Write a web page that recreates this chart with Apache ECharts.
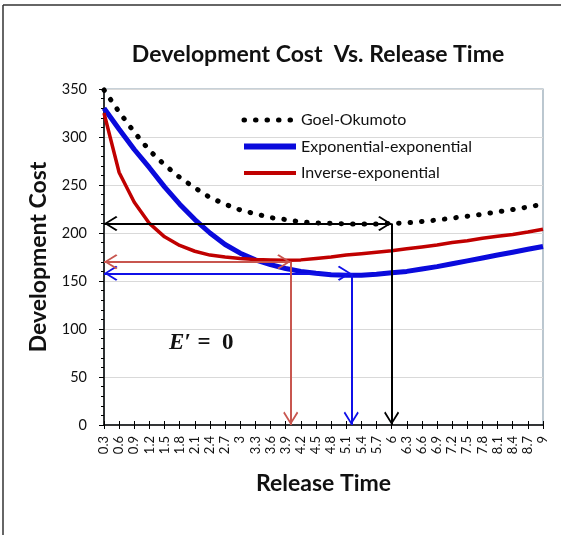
<!DOCTYPE html>
<html>
<head>
<meta charset="utf-8">
<script src="https://cdn.jsdelivr.net/npm/echarts@6/dist/echarts.min.js"></script>
<style>html,body{margin:0;padding:0;background:#fff}#c{width:561px;height:535px}</style>
</head>
<body>
<div id="c"></div>
<script>
// Release time categories (x ticks)
var releaseTimes = [0.3,0.6,0.9,1.2,1.5,1.8,2.1,2.4,2.7,3.0,3.3,3.6,3.9,4.2,4.5,4.8,5.1,5.4,5.7,6.0,6.3,6.6,6.9,7.2,7.5,7.8,8.1,8.4,8.7,9.0];
var yTicks = [0,50,100,150,200,250,300,350];
// Series values
var goelOkumoto = [349,326,305,286,271,258,247,237,230,224,220,216,214,211.5,210.5,210,209.5,209.5,209.5,210,210.5,212,213.5,215.5,217.5,219.5,222,224.5,227,230];
var expExp      = [330,308,287,268,248,230,214,200,188,179,172,167,163,160,158,156.5,156,156,157,158.5,160,162.5,165,168,171,174,177,180,183,186];
var invExp      = [325,263,232,210,196,187,181,177,175,173.5,172.5,172,171.5,172,173.5,175,177,178.5,180,181.5,183.5,185.5,187.5,190,192,194.5,196.5,198.5,201,204];
// Optimal release points (E' = 0)
var optNames = ['Goel-Okumoto','Exponential-exponential','Inverse-exponential'];
var optTime  = [6.0, 5.2, 4.0];
var optCost  = [210, 158, 170];

function pairs(vals){ return releaseTimes.map(function(t,i){ return [t, vals[i]]; }); }

var chevron = 'path://M10,0 L20,12 L18.3,13.5 L10,3.2 L1.7,13.5 L0,12 Z M10,-13.5 L10,-13.5';
var arrowSize = [15, 27];

function arrows(i, color){
  return {
    silent: true,
    symbol: [chevron, chevron],
    symbolSize: arrowSize,
    label: {show: false},
    lineStyle: {color: color, width: 2, type: 'solid'},
    emphasis: {disabled: true},
    data: [
      [{coord: [releaseTimes[0], optCost[i]]}, {coord: [optTime[i], optCost[i]]}],
      [{coord: [optTime[i], optCost[i]], symbol: 'none'}, {coord: [optTime[i], 0]}]
    ]
  };
}

var chart = echarts.init(document.getElementById('c'), null, {renderer: 'canvas'});
var fontFam = 'Lato, "Open Sans", sans-serif';
chart.setOption({
  animation: false,
  backgroundColor: '#ffffff',
  title: {
    text: 'Development Cost  Vs. Release Time',
    left: 313, top: 38, textAlign: 'center',
    textStyle: {fontFamily: fontFam, fontWeight: 'bold', fontSize: 23, color: '#111'}
  },
  legend: {
    orient: 'vertical', left: 241, top: 112, padding: 0, itemWidth: 52, itemHeight: 16, itemGap: 10.5, itemTextGap: 4,
    textStyle: {fontFamily: fontFam, fontSize: 16, color: '#111'},
    data: [
      {name: optNames[0], itemStyle: {opacity: 0}, lineStyle: {width: 5, type: [0.5, 11], cap: 'round', color: '#000'}},
      {name: optNames[1], itemStyle: {opacity: 0}, lineStyle: {width: 6, color: '#0a0adc'}},
      {name: optNames[2], itemStyle: {opacity: 0}, lineStyle: {width: 4, color: '#c00000'}}
    ]
  },
  grid: {left: 104, right: 18, top: 89, bottom: 110, show: true, borderColor: '#8fa3b1', borderWidth: 1.2},
  xAxis: [{
    type: 'value', min: releaseTimes[0], max: releaseTimes[releaseTimes.length-1], interval: 0.3,
    position: 'bottom',
    name: 'Release Time', nameLocation: 'middle', nameGap: 47,
    nameTextStyle: {fontFamily: fontFam, fontWeight: 'bold', fontSize: 23, color: '#111'},
    axisLine: {lineStyle: {color: '#000', width: 1.5}},
    axisTick: {length: 4, lineStyle: {color: '#000'}},
    axisLabel: {rotate: 90, margin: 11, fontFamily: fontFam, fontSize: 13, color: '#111',
      formatter: function(v){ return String(+(+v).toFixed(1)); }},
    splitLine: {show: false}
  },{
    type: 'value', min: releaseTimes[0], max: releaseTimes[releaseTimes.length-1], interval: 0.3,
    position: 'bottom',
    axisLine: {show: false},
    axisTick: {inside: true, length: 4, lineStyle: {color: '#000'}},
    axisLabel: {show: false}, splitLine: {show: false}
  }],
  yAxis: {
    type: 'value', min: yTicks[0], max: yTicks[yTicks.length-1], interval: 50,
    name: 'Development Cost', nameLocation: 'middle', nameGap: 54,
    nameTextStyle: {fontFamily: fontFam, fontWeight: 'bold', fontSize: 23, color: '#111'},
    axisLine: {show: true, lineStyle: {color: '#000', width: 1.5}},
    axisTick: {show: true, length: 5, lineStyle: {color: '#000'}},
    minorTick: {show: true, splitNumber: 5, length: 3, lineStyle: {color: '#000'}},
    axisLabel: {margin: 17, fontFamily: fontFam, fontSize: 14.5, color: '#111'},
    splitLine: {lineStyle: {color: '#d9d9d9', width: 1.2}}
  },
  series: [
    {name: optNames[0], type: 'line', data: pairs(goelOkumoto), showSymbol: false, symbol: 'none',
     lineStyle: {color: '#000', width: 5, type: [0.5, 11], cap: 'round'}, itemStyle: {color: '#000'},
     markLine: arrows(0, '#000')},
    {name: optNames[1], type: 'line', data: pairs(expExp), showSymbol: false, symbol: 'none',
     lineStyle: {color: '#0a0adc', width: 5}, itemStyle: {color: '#0a0adc'},
     markLine: arrows(1, '#1010e8')},
    {name: optNames[2], type: 'line', data: pairs(invExp), showSymbol: false, symbol: 'none',
     lineStyle: {color: '#c00000', width: 3.5}, itemStyle: {color: '#c00000'},
     markLine: arrows(2, '#c8564f')}
  ],
  graphic: [
    {type: 'line', shape: {x1: 3, y1: 5, x2: 561, y2: 5}, style: {stroke: '#333', lineWidth: 1.5}},
    {type: 'line', shape: {x1: 3, y1: 5, x2: 3, y2: 535}, style: {stroke: '#333', lineWidth: 1.5}},
    {type: 'text', left: 169, top: 332, style: {
      text: '{i|E′}  {n|=  0}',
      rich: {
        i: {fontFamily: '"Liberation Serif", serif', fontStyle: 'italic', fontWeight: 'bold', fontSize: 23, fill: '#111'},
        n: {fontFamily: '"Liberation Serif", serif', fontWeight: 'bold', fontSize: 23, fill: '#111'}
      }}}
  ]
});
</script>
</body>
</html>
